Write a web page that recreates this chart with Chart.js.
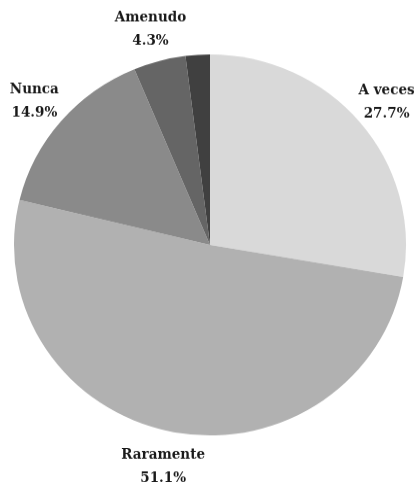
<!DOCTYPE html>
<html>
<head>
<meta charset="utf-8">
<script src="https://cdn.jsdelivr.net/npm/chart.js@4/dist/chart.umd.min.js"></script>
<style>
  html, body { margin: 0; padding: 0; background: #fff; overflow: hidden; }
  #wrap { width: 417px; height: 497px; transform: scaleY(0.9718); transform-origin: 0 0; }
</style>
</head>
<body>
<div id="wrap"><canvas id="c"></canvas></div>
<script>
const categories = ['A veces', 'Raramente', 'Nunca', 'Amenudo', ''];
const percentages = [27.7, 51.1, 14.9, 4.3, 2.0];
const sliceColors = ['#d9d9d9', '#b1b1b1', '#8a8a8a', '#656565', '#404040'];

const outsideLabels = {
  id: 'outsideLabels',
  afterDraw(chart) {
    const ctx = chart.ctx;
    const meta = chart.getDatasetMeta(0);
    meta.data.forEach((arc, i) => {
      if (!categories[i]) return;
      const p = arc.getProps(['x', 'y', 'startAngle', 'endAngle', 'outerRadius'], true);
      const mid = (p.startAngle + p.endAngle) / 2;
      const r = p.outerRadius + 35;
      const x = p.x + Math.cos(mid) * r;
      const y = p.y + Math.sin(mid) * r + 2;
      ctx.save();
      ctx.translate(x, y);
      ctx.scale(0.965, 1);
      ctx.font = 'bold 14px "DejaVu Serif"';
      ctx.fillStyle = '#1a1a1a';
      ctx.textAlign = 'center';
      ctx.textBaseline = 'middle';
      ctx.fillText(categories[i], 0, -12);
      ctx.fillText(percentages[i].toFixed(1) + '%', 0, 12);
      ctx.restore();
    });
  }
};

new Chart(document.getElementById('c'), {
  type: 'pie',
  data: {
    labels: categories,
    datasets: [{
      data: percentages,
      backgroundColor: sliceColors,
      borderWidth: 0
    }]
  },
  options: {
    responsive: true,
    maintainAspectRatio: false,
    animation: false,
    layout: { padding: { left: 14, right: 11, top: 56, bottom: 49 } },
    plugins: { legend: { display: false }, tooltip: { enabled: false } }
  },
  plugins: [outsideLabels]
});
</script>
</body>
</html>
